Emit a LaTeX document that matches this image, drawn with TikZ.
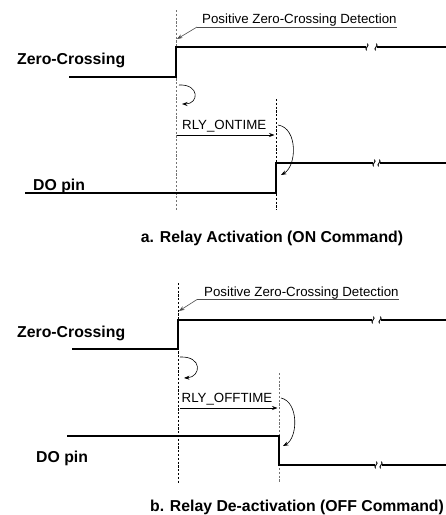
\documentclass[tikz,border=0pt]{standalone}
\usepackage{fontspec}
\setmainfont{Liberation Sans}
\usetikzlibrary{arrows.meta}

\begin{document}
\begin{tikzpicture}[
    x=1pt,
    y=-1pt,
    signame/.style={font=\fontsize{15.8}{18}\selectfont\bfseries, inner sep=0pt},
    notetext/.style={font=\fontsize{13.3}{15}\selectfont, inner sep=0pt},
    wave/.style={draw=black, line width=1.2pt},
    guide/.style={draw=black!55, dash pattern=on 2.2pt off 1.6pt, line width=0.7pt},
    lead/.style={draw=black!70, line width=0.6pt},
    tip/.style={-{Stealth[length=5.5pt,width=4pt]}, draw=black, line width=0.6pt},
    brk/.pic={\draw[line width=0.9pt] (-0.4,3.4) .. controls (-3.2,1.6) and (3.2,-1.6) .. (0.4,-3.4);}
  ]
    \useasboundingbox (0,0) rectangle (446,515);

    % a. relay activation
    \draw[guide] (176,10) -- (176,210);
    \draw[guide, draw=black] (276,99) -- (276,210);

    \node[signame, anchor=base west] (zcA) at (17,64) {Zero-Crossing};
    \node[signame, anchor=base west] (doA) at (33,190) {DO pin};

    \draw[wave] (69,77) -- (176,77) -- (176,47) -- (366,47);
    \pic at (367,47) {brk};
    \pic at (376,47) {brk};
    \draw[wave] (377,47) -- (446,47);

    \node[notetext, anchor=base west] (detA) at (202,23) {Positive Zero-Crossing Detection};
    \coordinate (kneeA) at ([shift={(-5,4)}]detA.base west);
    \coordinate (edgeA) at (177,39);
    \draw[lead] (detA.base east |- kneeA) -- (kneeA);
    \draw[tip, draw=black!70] (kneeA) -- (edgeA);

    \draw[tip] (179,85) .. controls (200,84) and (199,104) .. (182,104);

    \node[notetext, anchor=base west] (onA) at (182,129.5) {RLY\_ONTIME};
    \draw[tip] (177,135) -- (274.5,135);
    \draw[tip] (278,125) .. controls (298,128) and (297,166) .. (281,175);

    \draw[wave] (25,193) -- (276,193) -- (276,163) -- (373,163);
    \pic at (374,163) {brk};
    \pic at (379,163) {brk};
    \draw[wave] (380,163) -- (446,163);

    \node[signame, anchor=base] (capA) at (272,242) {a. Relay Activation (ON Command)};

    % b. relay de-activation
    \draw[guide, draw=black] (178,283) -- (178,483);
    \draw[guide] (279,373) -- (279,483);

    \node[signame, anchor=base west] (zcB) at (17,337) {Zero-Crossing};
    \node[signame, anchor=base west] (doB) at (36,462.5) {DO pin};

    \draw[wave] (72,349) -- (178,349) -- (178,320) -- (372,320);
    \pic at (373,320) {brk};
    \pic at (380,320) {brk};
    \draw[wave] (381,320) -- (446,320);

    \node[notetext, anchor=base west] (detB) at (204,296) {Positive Zero-Crossing Detection};
    \coordinate (kneeB) at ([shift={(-7,3.5)}]detB.base west);
    \coordinate (edgeB) at (179,311);
    \draw[lead] (detB.base east |- kneeB) -- (kneeB);
    \draw[tip, draw=black!70] (kneeB) -- (edgeB);

    \draw[tip] (180,357) .. controls (203,356) and (201,377) .. (184,378);

    \node[notetext, anchor=base west] (offB) at (181.5,402) {RLY\_OFFTIME};
    \draw[tip] (180,408) -- (277.5,408);
    \draw[tip] (281,398) .. controls (299,402) and (298,438) .. (283,446);

    \draw[wave] (67,436) -- (279,436) -- (279,465) -- (375,465);
    \pic at (376,465) {brk};
    \pic at (381,465) {brk};
    \draw[wave] (382,465) -- (446,465);

    \node[signame, anchor=base] (capB) at (297,511) {b. Relay De-activation (OFF Command)};
  \end{tikzpicture}
\end{document}
